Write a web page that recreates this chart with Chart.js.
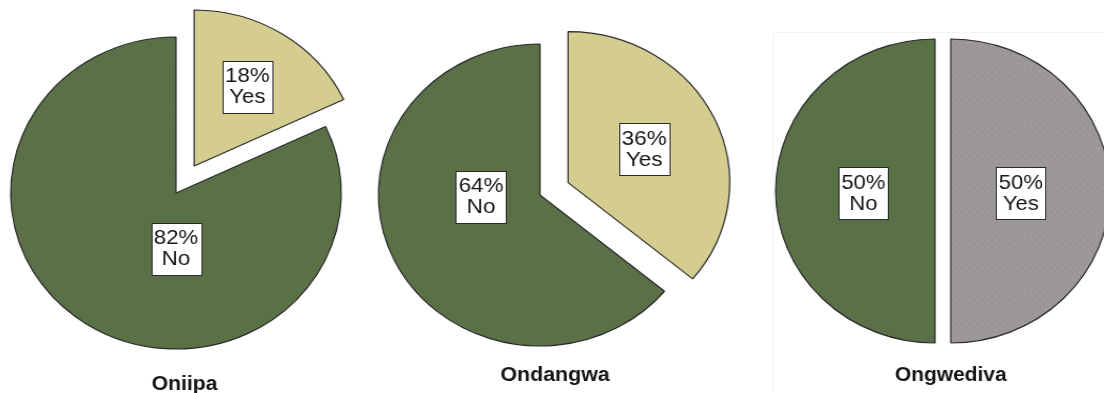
<!DOCTYPE html>
<html>
<head>
<meta charset="utf-8">
<script src="https://cdn.jsdelivr.net/npm/chart.js@4.4.1/dist/chart.umd.min.js"></script>
<style>
    html, body { margin: 0; padding: 0; background: #fff; }
    body { width: 1104px; height: 393px; position: relative; overflow: hidden; }
    canvas { position: absolute; top: 0; }
    #frame {
        position: absolute; left: 773px; top: 32px; width: 340px; height: 370px;
        border-left: 1px solid #f4f4f4; border-top: 1px solid #f4f4f4;
    }
</style>
</head>
<body>
<div id="frame"></div>
<canvas id="pie1" width="370" height="393"></canvas>
<canvas id="pie2" width="370" height="393"></canvas>
<canvas id="pie3" width="370" height="393"></canvas>
<script>
// answers per town, in percent
const towns = ['Oniipa', 'Ondangwa', 'Ongwediva'];
const answers = ['Yes', 'No'];
const yesPct = [18, 36, 50];
const noPct = [82, 64, 50];

// how far the "Yes" slice is pulled out of each pie (px)
const explodeGap = [32, 29, 15];

// where each box label sits: angle clockwise from 12 o'clock (null = slice bisector)
// and distance as a share of the radius, for [Yes, No]
const labelAngles = [[null, 180], [null, 268], [92, 268]];
const labelDists = [[0.6, 0.36], [0.52, 0.365], [0.44, 0.45]];

// placement of each pie on the page
const pieLayout = [
    { id: 'pie1', centerX: 176, centerY: 193, radius: 156, stretch: 1.058, captionDx: 8, captionY: 384 },
    { id: 'pie2', centerX: 540, centerY: 195, radius: 151, stretch: 1.07, captionDx: 14, captionY: 375 },
    { id: 'pie3', centerX: 935, centerY: 191, radius: 152, stretch: 1.05, captionDx: 15, captionY: 375 }
];

const noColor = '#5a7046';
const yesColor = '#d4cd8f';

// speckled grey used for the last "Yes" slice
function greyPattern() {
    const tile = document.createElement('canvas');
    tile.width = 7;
    tile.height = 7;
    const t = tile.getContext('2d');
    t.fillStyle = '#9c9899';
    t.fillRect(0, 0, 7, 7);
    t.fillStyle = '#8d898a';
    t.fillRect(1, 2, 1, 1);
    t.fillRect(5, 5, 1, 1);
    t.fillStyle = '#a6a2a3';
    t.fillRect(4, 1, 1, 1);
    return t.createPattern(tile, 'repeat');
}

const yesFill = [yesColor, yesColor, greyPattern()];

const boxLabels = {
    id: 'boxLabels',
    afterDatasetUpdate(chart, args) {
        // pull the first slice out along its bisector
        const opts = chart.options.plugins.boxLabels;
        const arc = args.meta.data[0];
        const mid = (arc.startAngle + arc.endAngle) / 2;
        arc.x += Math.cos(mid) * opts.gap;
        arc.y += Math.sin(mid) * opts.gap;
    },
    afterDatasetsDraw(chart) {
        const opts = chart.options.plugins.boxLabels;
        const ctx = chart.ctx;
        const meta = chart.getDatasetMeta(0);
        const values = chart.data.datasets[0].data;
        ctx.save();
        ctx.font = '21px "Liberation Sans", Arial, sans-serif';
        ctx.textAlign = 'center';
        ctx.textBaseline = 'middle';
        meta.data.forEach((arc, i) => {
            const mid = (arc.startAngle + arc.endAngle) / 2;
            const ang = opts.angles[i] === null ? mid : (opts.angles[i] - 90) * Math.PI / 180;
            const dist = opts.dists[i] * arc.outerRadius;
            const px = arc.x + Math.cos(ang) * dist;
            const py = arc.y + Math.sin(ang) * dist;
            const lines = [values[i] + '%', chart.data.labels[i]];
            const w = Math.round(Math.max(...lines.map(t => ctx.measureText(t).width)) + 5);
            const h = 52;
            const bx = Math.round(px - w / 2) + 0.5;
            const by = Math.round(py - h / 2) + 0.5;
            ctx.fillStyle = '#ffffff';
            ctx.fillRect(bx, by, w, h);
            ctx.strokeStyle = '#2a2a2a';
            ctx.lineWidth = 1;
            ctx.strokeRect(bx, by, w, h);
            ctx.fillStyle = '#161616';
            ctx.fillText(lines[0], px, py - 10.5);
            ctx.fillText(lines[1], px, py + 10.5);
        });
        // town name under the pie
        const area = chart.chartArea;
        ctx.font = 'bold 20px "Liberation Sans", Arial, sans-serif';
        ctx.fillStyle = '#141414';
        ctx.fillText(opts.caption, (area.left + area.right) / 2 + opts.captionDx, opts.captionY);
        ctx.restore();
    }
};

pieLayout.forEach((L, k) => {
    const canvas = document.getElementById(L.id);
    // the source pies are slightly wider than tall
    const cssWidth = canvas.width * L.stretch;
    canvas.style.width = cssWidth + 'px';
    canvas.style.height = canvas.height + 'px';
    canvas.style.left = (L.centerX - cssWidth / 2) + 'px';

    new Chart(canvas, {
        type: 'pie',
        data: {
            labels: answers,
            datasets: [{
                data: [yesPct[k], noPct[k]],
                backgroundColor: [yesFill[k], noColor],
                borderColor: '#2a2a2a',
                borderWidth: 1.2,
                radius: L.radius,
                hoverOffset: 0
            }]
        },
        options: {
            responsive: false,
            animation: false,
            events: [],
            layout: { padding: { top: 0, bottom: canvas.height - 2 * L.centerY, left: 0, right: 0 } },
            plugins: {
                legend: { display: false },
                tooltip: { enabled: false },
                boxLabels: {
                    gap: explodeGap[k],
                    angles: labelAngles[k],
                    dists: labelDists[k],
                    caption: towns[k],
                    captionDx: L.captionDx,
                    captionY: L.captionY
                }
            }
        },
        plugins: [boxLabels]
    });
});
</script>
</body>
</html>
